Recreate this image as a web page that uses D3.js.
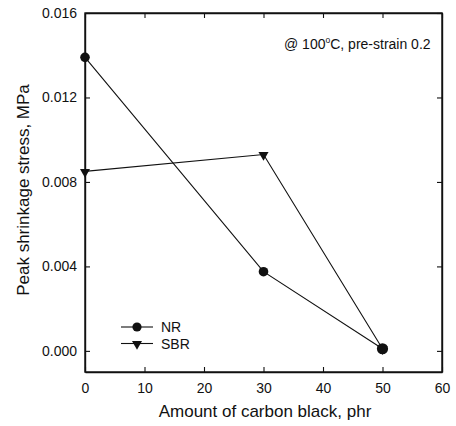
<!DOCTYPE html>
<html><head><meta charset="utf-8">
<script src="https://cdn.jsdelivr.net/npm/d3@7"></script>
<style>body{margin:0;background:#fff}text{font-family:"Liberation Sans",Arial,sans-serif;fill:#111}</style>
</head><body>
<script>
const carbonBlack = [0, 30, 50];
const nrValues = [0.0139, 0.00375, 0.0001];
const sbrValues = [0.0085, 0.0093, 0.0001];
const xTicks = [0, 10, 20, 30, 40, 50, 60];
const yTicks = [0.000, 0.004, 0.008, 0.012, 0.016];
const seriesNames = ["NR", "SBR"];

const W = 456, H = 426;
const svg = d3.select("body").append("svg").attr("width", W).attr("height", H);
const x = d3.scaleLinear().domain([0, 60]).range([85, 442]);
const y = d3.scaleLinear().domain([-0.001, 0.016]).range([372, 13]);

svg.append("rect").attr("x", 85).attr("y", 13).attr("width", 357).attr("height", 359)
  .attr("fill", "none").attr("stroke", "#111").attr("stroke-width", 1.4);

const tk = 5;
const gB = svg.append("g").attr("transform", "translate(0,372)")
  .call(d3.axisBottom(x).tickValues(xTicks).tickSizeInner(-tk).tickSizeOuter(0).tickPadding(11).tickFormat(d3.format("d")));
const gT = svg.append("g").attr("transform", "translate(0,13)")
  .call(d3.axisTop(x).tickValues(xTicks).tickSizeInner(-tk).tickSizeOuter(0).tickFormat(""));
const gL = svg.append("g").attr("transform", "translate(85,0)")
  .call(d3.axisLeft(y).tickValues(yTicks).tickSizeInner(-tk).tickSizeOuter(0).tickPadding(8).tickFormat(d3.format(".3f")));
const gR = svg.append("g").attr("transform", "translate(442,0)")
  .call(d3.axisRight(y).tickValues(yTicks).tickSizeInner(-tk).tickSizeOuter(0).tickFormat(""));
[gB, gT, gL, gR].forEach(g => {
  g.select(".domain").attr("stroke", "#111").attr("stroke-width", 1.4);
  g.selectAll(".tick line").attr("stroke", "#111").attr("stroke-width", 1.1);
  g.selectAll("text").attr("font-size", 14).attr("font-family", "Liberation Sans, Arial, sans-serif").attr("fill", "#111");
});

const line = d3.line().x((d, i) => x(carbonBlack[i])).y(d => y(d));
svg.append("path").attr("d", line(nrValues)).attr("fill", "none").attr("stroke", "#111").attr("stroke-width", 1.1);
svg.append("path").attr("d", line(sbrValues)).attr("fill", "none").attr("stroke", "#111").attr("stroke-width", 1.1);

const tri = d3.symbol().type(d3.symbolTriangle).size(44);
svg.selectAll(".sbr").data(sbrValues).join("path")
  .attr("transform", (d, i) => `translate(${x(carbonBlack[i])},${y(d) + 0.5}) rotate(180)`)
  .attr("d", tri()).attr("fill", "#111");
svg.selectAll(".nr").data(nrValues).join("circle")
  .attr("cx", (d, i) => x(carbonBlack[i])).attr("cy", d => y(d)).attr("r", (d, i) => i === 2 ? 5.6 : 4.8).attr("fill", "#111");

const lg = svg.append("g");
seriesNames.forEach((name, i) => {
  const ly = 327 + i * 16.5;
  lg.append("line").attr("x1", 121).attr("x2", 153).attr("y1", ly).attr("y2", ly).attr("stroke", "#111").attr("stroke-width", 1.1);
  if (i === 0) lg.append("circle").attr("cx", 137).attr("cy", ly).attr("r", 4.6).attr("fill", "#111");
  else lg.append("path").attr("transform", `translate(137,${ly + 0.5}) rotate(180)`).attr("d", tri()).attr("fill", "#111");
  lg.append("text").attr("x", 161).attr("y", ly + 5).attr("font-size", 14).text(name);
});

const ann = svg.append("text").attr("x", 284).attr("y", 49).attr("font-size", 14);
ann.append("tspan").text("@ 100");
ann.append("tspan").attr("dy", -6).attr("font-size", 8.5).text("o");
ann.append("tspan").attr("dy", 6).text("C, pre-strain 0.2");

svg.append("text").attr("x", 265).attr("y", 417).attr("text-anchor", "middle").attr("font-size", 17)
  .text("Amount of carbon black, phr");
svg.append("text").attr("transform", "translate(29,190) rotate(-90)").attr("text-anchor", "middle").attr("font-size", 17)
  .text("Peak shrinkage stress, MPa");
</script>
</body></html>
